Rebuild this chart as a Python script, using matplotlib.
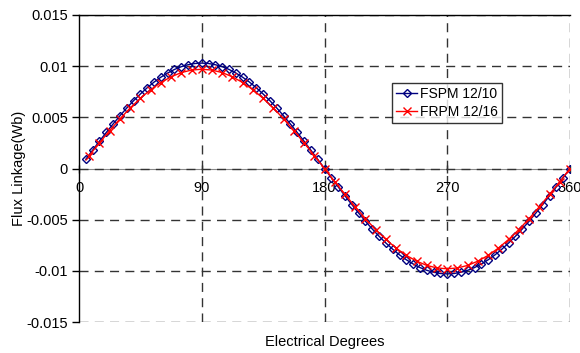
import matplotlib
matplotlib.use("Agg")
import matplotlib.pyplot as plt

plt.rcParams['font.family'] = ['Liberation Sans', 'DejaVu Sans']

# FSPM 12/10 (every 5 electrical degrees)
fspm_deg = [5, 10, 15, 20, 25, 30, 35, 40, 45, 50, 55, 60, 65, 70, 75, 80, 85, 90,
            95, 100, 105, 110, 115, 120, 125, 130, 135, 140, 145, 150, 155, 160, 165, 170, 175, 180,
            185, 190, 195, 200, 205, 210, 215, 220, 225, 230, 235, 240, 245, 250, 255, 260, 265, 270,
            275, 280, 285, 290, 295, 300, 305, 310, 315, 320, 325, 330, 335, 340, 345, 350, 355, 360]
fspm_flux = [0.00090, 0.00179, 0.00267, 0.00352, 0.00435, 0.00515, 0.00591, 0.00662, 0.00728,
             0.00789, 0.00844, 0.00892, 0.00933, 0.00968, 0.00995, 0.01014, 0.01026, 0.01030,
             0.01026, 0.01014, 0.00995, 0.00968, 0.00933, 0.00892, 0.00844, 0.00789, 0.00728,
             0.00662, 0.00591, 0.00515, 0.00435, 0.00352, 0.00267, 0.00179, 0.00090, 0.00000,
             -0.00090, -0.00179, -0.00267, -0.00352, -0.00435, -0.00515, -0.00591, -0.00662, -0.00728,
             -0.00789, -0.00844, -0.00892, -0.00933, -0.00968, -0.00995, -0.01014, -0.01026, -0.01030,
             -0.01026, -0.01014, -0.00995, -0.00968, -0.00933, -0.00892, -0.00844, -0.00789, -0.00728,
             -0.00662, -0.00591, -0.00515, -0.00435, -0.00352, -0.00267, -0.00179, -0.00090, 0.00000]

# FRPM 12/16 (every 7.5 electrical degrees)
frpm_deg = [7.5, 15, 22.5, 30, 37.5, 45, 52.5, 60, 67.5, 75, 82.5, 90,
            97.5, 105, 112.5, 120, 127.5, 135, 142.5, 150, 157.5, 165, 172.5, 180,
            187.5, 195, 202.5, 210, 217.5, 225, 232.5, 240, 247.5, 255, 262.5, 270,
            277.5, 285, 292.5, 300, 307.5, 315, 322.5, 330, 337.5, 345, 352.5, 360]
frpm_flux = [0.00127, 0.00251, 0.00371, 0.00485, 0.00591, 0.00686, 0.00770, 0.00840, 0.00896,
             0.00937, 0.00962, 0.00970,
             0.00962, 0.00937, 0.00896, 0.00840, 0.00770, 0.00686, 0.00591, 0.00485, 0.00371,
             0.00251, 0.00127, 0.00000,
             -0.00128, -0.00253, -0.00374, -0.00490, -0.00597, -0.00693, -0.00778, -0.00849, -0.00905,
             -0.00947, -0.00972, -0.00980,
             -0.00972, -0.00947, -0.00905, -0.00849, -0.00778, -0.00693, -0.00597, -0.00490, -0.00374,
             -0.00253, -0.00128, 0.00000]

x_ticks = [0, 90, 180, 270, 360]
y_ticks = [-0.015, -0.01, -0.005, 0, 0.005, 0.01, 0.015]
y_labels = ['-0.015', '-0.01', '-0.005', '0', '0.005', '0.01', '0.015']

FS = 10.5

fig = plt.figure(figsize=(5.8, 3.53), dpi=100)
ax = fig.add_axes([79/580, 1-322/353, (570-79)/580, (322-15)/353])

ax.set_xlim(0, 360)
ax.set_ylim(-0.015, 0.015)

# grid lines
for yv in y_ticks:
    ax.axhline(yv, color='#333333', lw=1.0, ls=(0, (6.5, 4.5)), zorder=1)
for xv in x_ticks[1:]:
    ax.axvline(xv, color='#333333', lw=1.0, ls=(0, (6.5, 4.5)), zorder=1)

ax.plot(fspm_deg, fspm_flux, color='#000080', lw=1.0, marker='D', markersize=4,
        markerfacecolor='none', markeredgecolor='#000080', markeredgewidth=1.0,
        label='FSPM 12/10', zorder=3)
ax.plot(frpm_deg, frpm_flux, color='#FF0000', lw=1.0, marker='x', markersize=6,
        markeredgewidth=1.0, label='FRPM 12/16', zorder=4)

ax.spines['right'].set_visible(False)
ax.spines['bottom'].set_position(('data', 0))
ax.spines['bottom'].set_color('#888888')
ax.spines['bottom'].set_zorder(0)
ax.spines['top'].set_linewidth(1.0)
ax.spines['left'].set_linewidth(1.0)

ax.set_yticks(y_ticks)
ax.set_yticklabels(y_labels)
ax.set_xticks(x_ticks)
ax.set_xticklabels([str(v) for v in x_ticks])
ax.tick_params(axis='y', direction='out', length=5, width=1, labelsize=FS, pad=3)
ax.tick_params(axis='x', direction='inout', length=6, width=1, labelsize=FS, pad=6,
               color='#333333')
for lab in ax.get_xticklabels():
    lab.set_clip_on(False)

ax.set_ylabel('Flux Linkage(Wb)', fontsize=FS, labelpad=0)
fig.text((79+570)/2/580, 1-342/353, 'Electrical Degrees', ha='center', va='center', fontsize=FS)

leg = ax.legend(loc='upper left', bbox_to_anchor=((392-79)/491, (322-83)/307),
                fontsize=10, frameon=True, fancybox=False, borderpad=0.3,
                handlelength=1.5, handletextpad=0.2, labelspacing=0.25, borderaxespad=0)
leg.get_frame().set_edgecolor('black')
leg.get_frame().set_linewidth(1.0)
leg.set_zorder(10)

fig.savefig('out.png', dpi=100)
